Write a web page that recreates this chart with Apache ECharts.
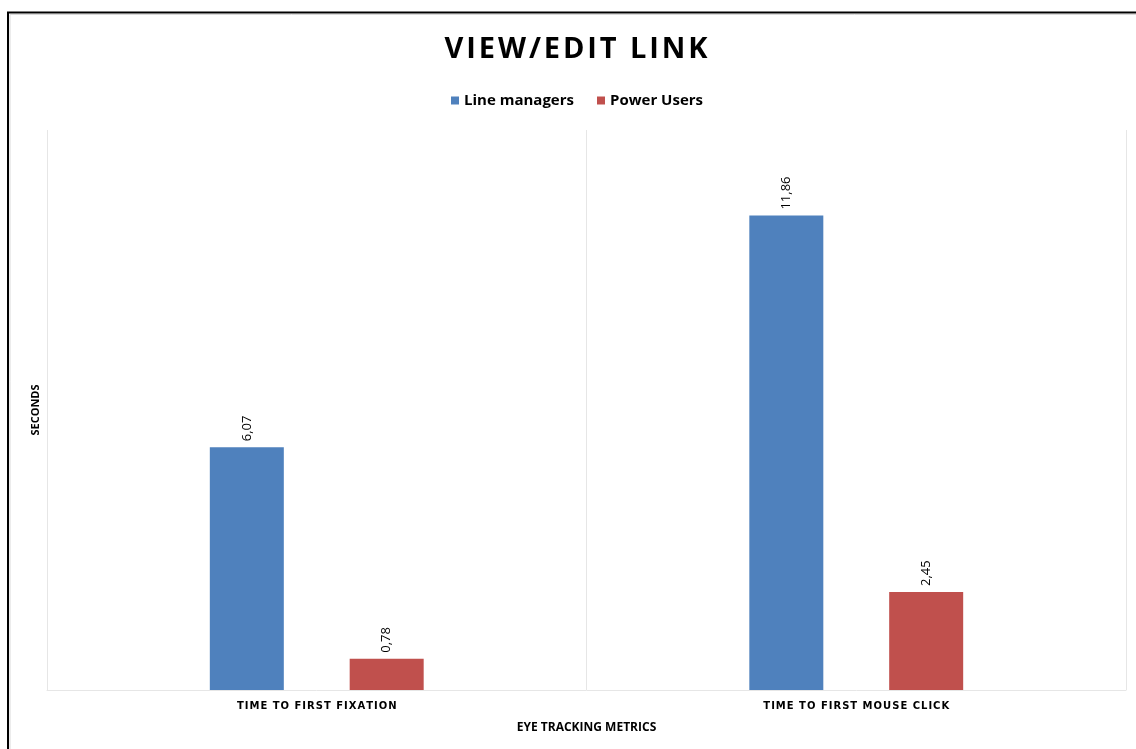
<!DOCTYPE html>
<html>
<head>
<meta charset="utf-8">
<style>
  html, body { margin: 0; padding: 0; background: #fff; }
  #chart { width: 1136px; height: 749px; }
</style>
<script src="https://cdn.jsdelivr.net/npm/echarts@6/dist/echarts.min.js"></script>
</head>
<body>
<div id="chart"></div>
<script>
// Eye tracking metrics, in seconds
const categories = ['TIME TO FIRST FIXATION', 'TIME TO FIRST MOUSE CLICK'];
const lineManagers = [6.07, 11.86];
const powerUsers = [0.78, 2.45];
const seriesNames = ['Line managers', 'Power Users'];
const chartTitle = 'VIEW/EDIT LINK';

const FONT = '"Open Sans", "Noto Sans", sans-serif';

// widen tracking by placing a hair space between letters
const spaced = s => s.split('').join('\u200A');

const chart = echarts.init(document.getElementById('chart'), null, { renderer: 'canvas' });

function valueLabel() {
  return {
    show: true,
    position: 'top',
    distance: 6,
    rotate: 90,
    align: 'left',
    verticalAlign: 'middle',
    color: '#000',
    fontFamily: FONT,
    fontSize: 13,
    formatter: p => p.value.toFixed(2).replace('.', ',')
  };
}

chart.setOption({
  backgroundColor: '#fff',
  animation: false,
  legend: {
    top: 88,
    left: 446,
    itemWidth: 8,
    itemHeight: 8,
    itemGap: 23,
    icon: 'rect',
    textStyle: { fontFamily: FONT, fontWeight: 'bold', fontSize: 15, color: '#000' },
    data: seriesNames
  },
  grid: { left: 47, right: 10, top: 130, bottom: 59 },
  xAxis: {
    type: 'category',
    data: categories,
    name: 'EYE TRACKING METRICS',
    nameLocation: 'middle',
    nameGap: 32,
    nameTextStyle: { fontFamily: FONT, fontWeight: 'bold', fontSize: 12, color: '#000' },
    axisLine: { show: true, lineStyle: { color: '#e6e6e6', width: 1 } },
    axisTick: { show: false },
    axisLabel: {
      fontFamily: '"DejaVu Sans", sans-serif',
      fontWeight: 'bold',
      fontSize: 10,
      color: '#000',
      margin: 11,
      formatter: v => spaced(v)
    },
    splitLine: { show: true, lineStyle: { color: '#e6e6e6', width: 1 } }
  },
  yAxis: {
    type: 'value',
    min: 0,
    max: 14,
    interval: 2,
    name: 'SECONDS',
    nameLocation: 'middle',
    nameGap: 6,
    nameRotate: 90,
    nameTextStyle: { fontFamily: FONT, fontWeight: 'bold', fontSize: 11, color: '#000' },
    axisLine: { show: false },
    axisTick: { show: false },
    axisLabel: { show: false },
    splitLine: { show: false }
  },
  series: [
    {
      name: seriesNames[0],
      type: 'bar',
      data: lineManagers,
      barWidth: 74,
      barGap: '89%',
      itemStyle: { color: '#4f81bd' },
      label: valueLabel()
    },
    {
      name: seriesNames[1],
      type: 'bar',
      data: powerUsers,
      barWidth: 74,
      barGap: '89%',
      itemStyle: { color: '#c0504d' },
      label: valueLabel()
    }
  ],
  graphic: [
    {
      type: 'text',
      silent: true,
      x: 576,
      y: 50,
      style: {
        text: spaced(chartTitle),
        fill: '#000',
        font: 'bold 29px ' + FONT,
        textAlign: 'center',
        textVerticalAlign: 'middle'
      }
    },
    {
      type: 'polyline',
      silent: true,
      shape: { points: [[8, 749], [8, 12.5], [1136, 12.5]] },
      style: { stroke: '#000', lineWidth: 2, fill: null }
    },
    {
      type: 'polyline',
      silent: true,
      shape: { points: [[10, 749], [10, 14.5], [1136, 14.5]] },
      style: { stroke: '#d9d9d9', lineWidth: 1, fill: null }
    }
  ]
});
</script>
</body>
</html>
